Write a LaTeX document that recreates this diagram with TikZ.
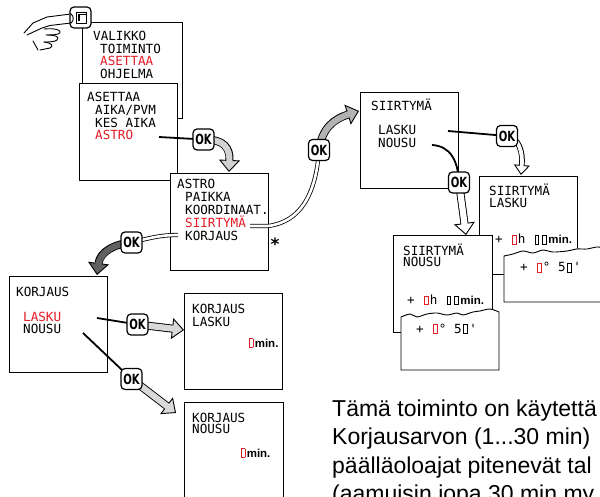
\documentclass[tikz,border=0pt]{standalone}
\usepackage{fontspec}
\setmainfont{Liberation Sans}
\newfontfamily\lcd{DejaVu Sans Mono}
\newfontfamily\okf[FakeStretch=0.72]{DejaVu Sans}
\usetikzlibrary{arrows.meta}
\definecolor{lcdred}{RGB}{228,28,40}
\newcommand\lz[1]{\makebox[7.6pt][c]{\color{#1}\setlength{\fboxsep}{0pt}\setlength{\fboxrule}{0.9pt}\fbox{\rule{0pt}{8pt}\hspace{3pt}}}}
\newcommand\mn{{\rmfamily\bfseries\fontsize{11.5}{12}\selectfont min.}}
\tikzset{
  scr/.style={draw=black, line width=0.9pt, fill=white},
  lt/.style={anchor=base west, inner sep=0pt, font=\lcd\fontsize{12.6}{13}\selectfont},
  okb/.style={draw=black, line width=1.2pt, fill=white, rounded corners=4pt, minimum width=21pt, minimum height=21pt, inner sep=0pt, font=\okf\bfseries\fontsize{14}{14}\selectfont},
  lead/.style={line width=1.8pt, black},
  tube/.style={double=white, double distance=2.6pt, line width=0.8pt},
  fatout/.style={line width=8pt, black, -{Triangle[length=12pt,width=21pt,line width=0.9pt,fill=#1,color=black]}},
  fatin/.style={line width=6.2pt, #1, shorten >=10.4pt},
  thinout/.style={line width=5.6pt, black, -{Triangle[length=10pt,width=16pt,line width=0.9pt,fill=#1,color=black]}},
  thinin/.style={line width=3.8pt, #1, shorten >=8.6pt},
  handl/.style={line width=0.9pt, black, line cap=round, line join=round},
  para/.style={anchor=base west, inner sep=0pt, font=\fontsize{23}{28}\selectfont},
}
\newcommand\fatarr[2]{\draw[fatout=#1] #2; \draw[fatin=#1] #2;}
\newcommand\thinarr[2]{\draw[thinout=#1] #2; \draw[thinin=#1] #2;}
\begin{document}
\begin{tikzpicture}[x=1pt,y=-1pt]
\useasboundingbox (0,0) rectangle (600,497);
\clip (0,0) rectangle (600,497);

% OK positions
\coordinate (k1) at (203.5,139.5);
\coordinate (k2) at (319,150);
\coordinate (k3) at (131.5,242.5);
\coordinate (k4) at (137.5,324.5);
\coordinate (k5) at (131.5,379);
\coordinate (k6) at (507,136);
\coordinate (k7) at (459,182.5);

% VALIKKO
\node[scr, anchor=north west, minimum width=100pt, minimum height=96pt] (bval) at (82,22) {};
\node[lt] (v1) at (93,41) {VALIKKO};
\node[lt] (v2) at (100,53.5) {TOIMINTO};
\node[lt, text=lcdred] (v3) at (100,66) {ASETTAA};
\node[lt] (v4) at (100,78.5) {OHJELMA};

% ASETTAA
\node[scr, anchor=north west, minimum width=98pt, minimum height=97pt] (bas) at (79,83) {};
\node[lt] (a1) at (87,102) {ASETTAA};
\node[lt] (a2) at (95,115) {AIKA/PVM};
\node[lt] (a3) at (95,127.5) {KES AIKA};
\node[lt, text=lcdred] (a4) at (95,140) {ASTRO};

% ASTRO
\node[scr, anchor=north west, minimum width=98pt, minimum height=97pt] (bastro) at (170,173) {};
\node[lt] (r1) at (177,189) {ASTRO};
\node[lt] (r2) at (185,202) {PAIKKA};
\node[lt] (r3) at (185,215) {KOORDINAAT.};
\node[lt, text=lcdred] (r4) at (185,228) {SIIRTYMÄ};
\node[lt] (r5) at (185,241) {KORJAUS};
\node[inner sep=0pt, font=\fontspec{DejaVu Sans}\bfseries\fontsize{17}{17}\selectfont] (star) at (275,244) {*};

% KORJAUS
\node[scr, anchor=north west, minimum width=98pt, minimum height=96pt] (bkor) at (9,276) {};
\node[lt] (q1) at (16,296) {KORJAUS};
\node[lt, text=lcdred] (q2) at (23,321) {LASKU};
\node[lt] (q3) at (23,333) {NOUSU};

% KORJAUS LASKU
\node[scr, anchor=north west, minimum width=98pt, minimum height=96pt] (bkl) at (184,293) {};
\node[lt] (kl1) at (192,313) {KORJAUS};
\node[lt] (kl2) at (192,326.5) {LASKU};
\node[lt] (kl3) at (247,347) {\lz{lcdred}\mn};

% KORJAUS NOUSU
\node[scr, anchor=north west, minimum width=99pt, minimum height=100pt] (bkn) at (184,402) {};
\node[lt] (kn1) at (192,422) {KORJAUS};
\node[lt] (kn2) at (192,433.5) {NOUSU};
\node[lt] (kn3) at (239,457) {\lz{lcdred}\mn};

% SIIRTYMA
\node[scr, anchor=north west, minimum width=98pt, minimum height=96pt] (bsi) at (360,92) {};
\node[lt] (s1t) at (371,111) {SIIRTYMÄ};
\node[lt] (s2t) at (378,135) {LASKU};
\node[lt] (s3t) at (378,148) {NOUSU};

% SIIRTYMA LASKU (upper)
\node[scr, anchor=north west, minimum width=98pt, minimum height=98pt] (bsl) at (479,176) {};
\node[lt] (sl1) at (489,196) {SIIRTYMÄ};
\node[lt] (sl2) at (489,208) {LASKU};
\node[lt] (sl3) at (495,244) {+ \lz{lcdred}h \lz{black}\lz{black}\mn};
\draw[scr] (504,302) -- plot[smooth] coordinates {(504,256) (513,254) (523,251) (533,253) (543,250) (553,252) (567,251) (577,249) (587,249) (597,247) (606,248)} -- (606,302) -- cycle;
\node[lt] (sl4) at (520,272) {+ \lz{lcdred}° 5\lz{black}\textquotesingle};

% SIIRTYMA NOUSU (upper)
\node[scr, anchor=north west, minimum width=99pt, minimum height=97pt] (bsn) at (393,235) {};
\node[lt] (sn1) at (403,255) {SIIRTYMÄ};
\node[lt] (sn2) at (403,267) {NOUSU};
\node[lt] (sn3) at (407,304.5) {+ \lz{lcdred}h \lz{black}\lz{black}\mn};
\draw[scr] (401,370) -- plot[smooth] coordinates {(401,317) (410,314) (417,317) (427,314) (437,313) (447,315) (457,313) (463,315) (473,312) (480,311) (490,309) (499,312)} -- (499,370) -- cycle;
\node[lt] (sn4) at (416,333) {+ \lz{lcdred}° 5\lz{black}\textquotesingle};

% connector end points
\coordinate (p1) at (159,137);
\coordinate (e1) at (229,172);
\coordinate (p2) at (250,226);
\coordinate (e2) at (359,111);
\coordinate (p3) at (178,235);
\coordinate (e3) at (97,275);
\coordinate (p4) at (97,318);
\coordinate (e4) at (184,330);
\coordinate (p5) at (83,333);
\coordinate (e5) at (176,413);
\coordinate (p6) at (448,131);
\coordinate (e6) at (521,175);
\coordinate (p7) at (432,145);
\coordinate (e7) at (466,235);

% C1
\draw[lead] (p1) -- (k1);
\fatarr{gray!35}{(k1) .. controls (224,139) and (230,148) .. (e1)}
% C2
\draw[tube] (p2) -- (268,226) .. controls (300,222) and (316,195) .. (k2);
\fatarr{gray!60}{(k2) .. controls (322,128) and (334,119) .. (e2)}
% C3
\draw[tube] (p3) .. controls (160,235) and (150,238) .. (k3);
\fatarr{black!62}{(k3) .. controls (114,244) and (100,252) .. (e3)}
% C4
\draw[lead] (p4) -- (k4);
\fatarr{gray!30}{(k4) -- (e4)}
% C5
\draw[lead] (p5) -- (k5);
\fatarr{gray!30}{(k5) -- (e5)}
% C6
\draw[lead] (p6) -- (k6);
\thinarr{white}{(k6) .. controls (519,138) and (523,152) .. (e6)}
% C7
\draw[lead] (p7) .. controls (450,146) and (458,160) .. (k7);
\fatarr{white}{(k7) -- (e7)}

% OK badges
\foreach \i in {1,...,7} \node[okb] (ok\i) at (k\i) {OK};

% hand and button
\node[draw=black, line width=1.2pt, fill=white, rounded corners=4pt, minimum width=21pt, minimum height=21pt, inner sep=0pt] (btn) at (80.5,17.5) {};
\draw[line width=0.8pt] (76,12) rectangle (86,23);
\draw[line width=1.6pt] (79,21) -- (79,14.5) -- (86,14.5);
\draw[handl, fill=white] (71,14) -- (47,17) -- (33,23) -- (24,33);
\draw[handl] (50,25.5) -- (71,23);
\draw[handl] (71,14) .. controls (74,16) and (74,21) .. (71,23);
\draw[handl] (27,35) -- (42,28) -- (50,25.5);
\draw[handl] (44,29) .. controls (55,28) and (62,30) .. (60,33) .. controls (58,35) and (50,35) .. (46,35);
\draw[handl] (47,35) .. controls (56,35) and (60,37) .. (57,40) .. controls (55,42) and (48,42) .. (44,42);
\draw[handl] (44,42) .. controls (52,43) and (54,46) .. (50,48) -- (40,50);
\draw[handl] (33,41) -- (38,50);

% paragraph
\node[para] (l1) at (332,416) {Tämä toiminto on käytettä};
\node[para] (l2) at (332,444.5) {Korjausarvon (1...30 min)};
\node[para] (l3) at (332,473) {päälläoloajat pitenevät tal};
\node[para] (l4) at (332,501.5) {(aamuisin jopa 30 min my};
\end{tikzpicture}
\end{document}
